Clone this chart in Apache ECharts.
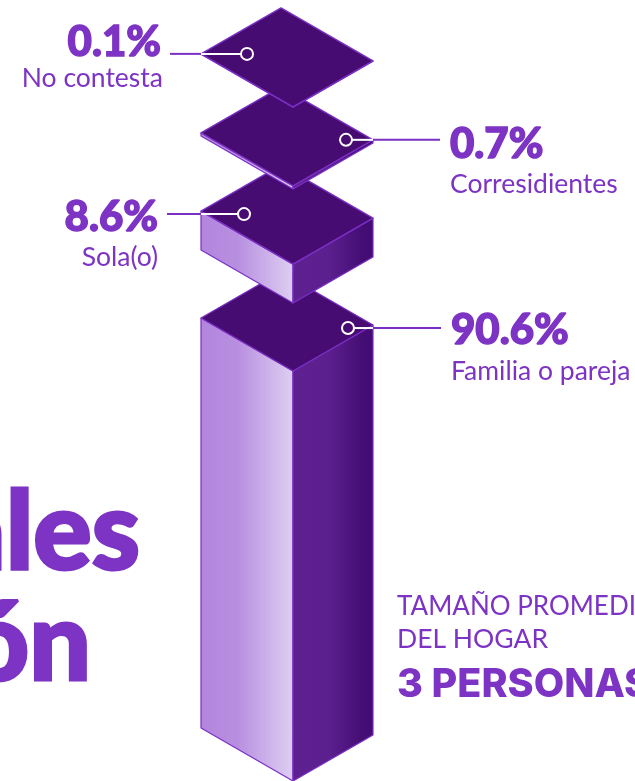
<!DOCTYPE html>
<html><head><meta charset="utf-8">
<style>html,body{margin:0;padding:0;background:#fff;overflow:hidden}#c{width:635px;height:781px}</style>
<script src="https://cdn.jsdelivr.net/npm/echarts@6/dist/echarts.min.js"></script>
</head><body><div id="c"></div>
<script>
const categories = ['Familia o pareja', 'Sola(o)', 'Corresidientes', 'No contesta'];
const values = [90.6, 8.6, 0.7, 0.1];
const explodeGaps = [0, 15.03, 16.6, 17.35];
const heading = ['ales', 'ón'];
const sideNote = ['TAMAÑO PROMEDIO', 'DEL HOGAR', '3 PERSONAS'];

const FONT = 'Lato, "Noto Sans", sans-serif';
const HEAVY = 'Inter, Lato, sans-serif';
const INK = '#7d33c3', EDGE = '#7b2fc4', TOP = '#470c72';
const TOP_L = [-92, -53], TOP_R = [80, -46], TOP_B = [-12, -99];
const leaders = [
  { side: 'R', dy: 3, dot: 55,  end: 148,  tx: 158,  stx: 158,  pct: 2,   sub: 43 },
  { side: 'L', dy: 3, dot: -49, end: -126, tx: -135, stx: -135, pct: 3,   sub: 43 },
  { side: 'R', dy: 0, dot: 53,  end: 147,  tx: 157,  stx: 157,  pct: 5,   sub: 45 },
  { side: 'L', dy: 0, dot: -46, end: -123, tx: -132, stx: -130, pct: -11, sub: 25 }
];

let acc = 0;
const rows = values.map((v, i) => {
  const base = acc + explodeGaps[i];
  acc = base + v;
  return [0, base, acc, i];
});

function renderItem(params, api) {
  const i = api.value(3);
  const cfg = leaders[i];
  const bot = api.coord([0, api.value(1)]);
  const top = api.coord([0, api.value(2)]);
  const fx = top[0], fy = top[1], by = bot[1];
  const L = [fx + TOP_L[0], fy + TOP_L[1]], R = [fx + TOP_R[0], fy + TOP_R[1]], B = [fx + TOP_B[0], fy + TOP_B[1]];
  const grad = (stops) => ({ type: 'linear', x: 0, y: 0, x2: 1, y2: 0, colorStops: stops });
  const vertex = cfg.side === 'R' ? R : L;
  const ay = vertex[1] + cfg.dy;
  const dotX = fx + cfg.dot, endX = fx + cfg.end;
  const align = cfg.side === 'R' ? 'left' : 'right';
  const children = [
    { type: 'polygon', shape: { points: [L, [fx, fy], [fx, by], [L[0], by + TOP_L[1]]] },
      style: { fill: grad([{offset:0,color:'#b385de'},{offset:0.4,color:'#b88fe0'},{offset:1,color:'#decff2'}]), stroke: EDGE, lineWidth: 1.2, lineJoin: 'round' } },
    { type: 'polygon', shape: { points: [[fx, fy], R, [R[0], by + TOP_R[1]], [fx, by]] },
      style: { fill: grad([{offset:0,color:'#5f2191'},{offset:0.45,color:'#5c1f8e'},{offset:0.85,color:'#450e75'},{offset:1,color:'#430c72'}]), stroke: EDGE, lineWidth: 1.2, lineJoin: 'round' } },
    { type: 'polygon', shape: { points: [B, R, [fx, fy], L] },
      style: { fill: TOP, stroke: EDGE, lineWidth: 1.3, lineJoin: 'round' } },
    { type: 'line', shape: { x1: vertex[0], y1: ay, x2: endX, y2: ay }, style: { stroke: EDGE, lineWidth: 2 } },
    { type: 'line', shape: { x1: vertex[0], y1: ay, x2: dotX, y2: ay }, style: { stroke: '#fff', lineWidth: 2 } },
    { type: 'circle', shape: { cx: dotX, cy: ay, r: 6 }, style: { fill: TOP, stroke: '#fff', lineWidth: 2 } },
    { type: 'text', style: { text: values[i].toFixed(1) + '%', x: fx + cfg.tx, y: ay + cfg.pct, fill: INK, stroke: INK, lineWidth: 1.4, align, verticalAlign: 'middle', font: '900 42px ' + FONT } },
    { type: 'text', style: { text: categories[i], x: fx + cfg.stx, y: ay + cfg.sub, fill: INK, align, verticalAlign: 'middle', font: '400 26.5px ' + FONT } }
  ];
  return { type: 'group', children };
}

const chart = echarts.init(document.getElementById('c'), null, { renderer: 'canvas', width: 635, height: 781 });
chart.setOption({
  animation: false,
  backgroundColor: '#fff',
  grid: { left: 0, right: 49, top: 0, bottom: 0 },
  xAxis: { type: 'category', data: ['Hogares'], show: false },
  yAxis: { type: 'value', min: 0, max: 172.6, show: false },
  graphic: [
    { type: 'text', style: { text: heading[0], x: 140, y: 534, fill: INK, stroke: INK, lineWidth: 3, align: 'right', verticalAlign: 'middle', font: '900 109px ' + FONT } },
    { type: 'text', style: { text: heading[1], x: 91, y: 645, fill: INK, stroke: INK, lineWidth: 3, align: 'right', verticalAlign: 'middle', font: '900 109px ' + FONT } },
    { type: 'text', style: { text: sideNote[0], x: 397, y: 607, fill: INK, align: 'left', verticalAlign: 'middle', font: '400 26px ' + FONT } },
    { type: 'text', style: { text: sideNote[1], x: 397, y: 639, fill: INK, align: 'left', verticalAlign: 'middle', font: '400 26.5px ' + FONT } },
    { type: 'text', style: { text: sideNote[2], x: 397, y: 685, fill: INK, align: 'left', verticalAlign: 'middle', font: '800 39.5px ' + HEAVY } }
  ],
  series: [{ type: 'custom', coordinateSystem: 'cartesian2d', renderItem, clip: false, data: rows, encode: { x: 0, y: [1, 2] } }]
});
</script></body></html>
